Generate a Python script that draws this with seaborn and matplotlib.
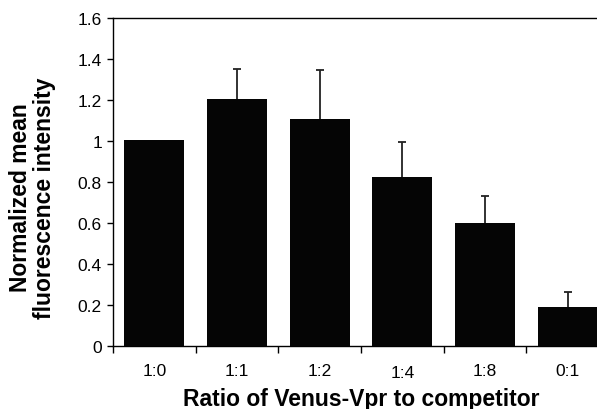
import numpy as np
import pandas as pd
import matplotlib
matplotlib.use("Agg")
import matplotlib.pyplot as plt
import matplotlib.transforms as mtrans
import seaborn as sns

categories = ["1:0", "1:1", "1:2", "1:4", "1:8", "0:1"]
means = [1.005, 1.205, 1.107, 0.825, 0.601, 0.190]
errors = [0.0, 0.148, 0.238, 0.170, 0.130, 0.073]
yticks = [0, 0.2, 0.4, 0.6, 0.8, 1, 1.2, 1.4, 1.6]
yticklabels = ["0", "0.2", "0.4", "0.6", "0.8", "1", "1.2", "1.4", "1.6"]

sns.set_theme(style="white")
plt.rcParams["font.family"] = ["Liberation Sans", "DejaVu Sans"]
plt.rcParams["text.color"] = "black"
plt.rcParams["axes.labelcolor"] = "black"

df = pd.DataFrame({"ratio": categories, "value": means})

fig = plt.figure(figsize=(5.97, 4.10), dpi=100)
ax = fig.add_axes([113 / 597, 63 / 410, 496 / 597, 328 / 410])

sns.barplot(data=df, x="ratio", y="value", order=categories, color="#050505",
            width=0.725, saturation=1, errorbar=None, ax=ax)
for p in ax.patches:
    p.set_edgecolor("none")
    p.set_zorder(3)

x = np.arange(len(categories))
err = np.array(errors)
mask = err > 0
ax.errorbar(x[mask], np.array(means)[mask], yerr=err[mask],
            fmt="none", ecolor="#222222", elinewidth=1.3, capsize=3,
            capthick=1.3, zorder=1)

ax.set_ylim(0, 1.6)
ax.set_xlim(-0.5, len(categories) - 0.5)
ax.set_yticks(yticks)
ax.set_yticklabels(yticklabels)
ax.set_xticks(x)
ax.set_xticklabels(categories)
ax.set_xticks(np.arange(-0.5, len(categories), 1.0), minor=True)
ax.tick_params(axis="x", which="major", length=0, pad=12, labelsize=12.5,
               colors="black", labelcolor="black")
ax.tick_params(axis="x", which="minor", length=5, width=1, direction="out", color="black", bottom=True)
ax.tick_params(axis="y", length=4, width=1, direction="out", pad=4, labelsize=12.5,
               colors="black", labelcolor="black", left=True)

# "1:4" label sits slightly lower in the reference
lbl = ax.get_xticklabels()[3]
lbl.set_transform(lbl.get_transform() + mtrans.ScaledTranslation(0, -2 / 72, fig.dpi_scale_trans))

for s in ["left", "bottom", "top", "right"]:
    ax.spines[s].set_visible(True)
    ax.spines[s].set_color("black")
    ax.spines[s].set_linewidth(1)

ax.set_xlabel("Ratio of Venus-Vpr to competitor", fontsize=16.5, fontweight="bold", color="black")
ax.set_ylabel("Normalized mean\nfluorescence intensity", fontsize=16.5, fontweight="bold",
              linespacing=1.05, color="black")
ax.xaxis.set_label_coords(0.5, -0.125)
ax.yaxis.set_label_coords(-0.115, 0.455)

fig.savefig("out.png", dpi=100)
